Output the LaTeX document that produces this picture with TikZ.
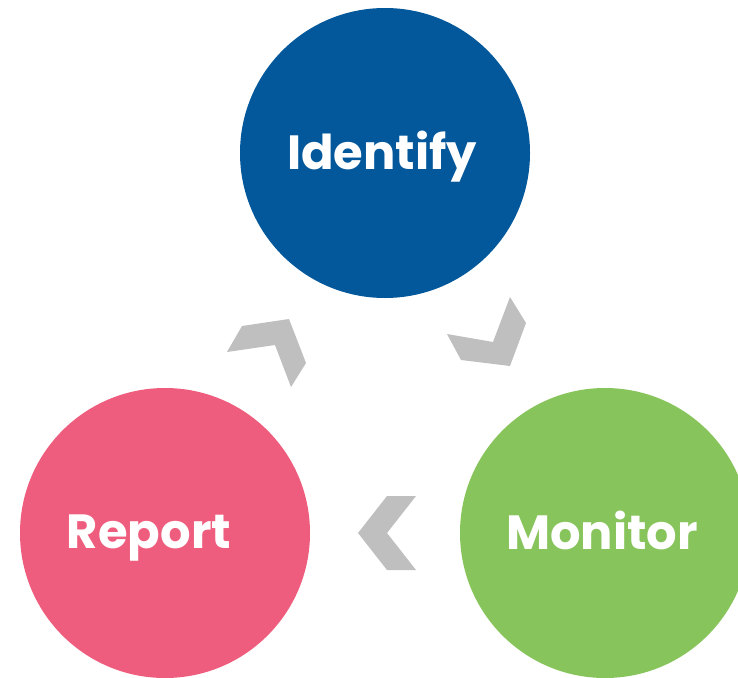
\documentclass[tikz,border=0pt]{standalone}
\usepackage{fontspec}
\setmainfont{Poppins}
\definecolor{idblue}{HTML}{02589B}
\definecolor{rppink}{HTML}{EF5D7E}
\definecolor{mngreen}{HTML}{87C45B}
\definecolor{chev}{HTML}{BFBFBF}
\begin{document}
\begin{tikzpicture}[x=1pt,y=-1pt,
  stage/.style={circle,minimum size=290pt,inner sep=0pt,draw=none},
  label/.style={text=white,font=\fontsize{48}{54}\selectfont\bfseries,inner sep=0pt,anchor=base},
  chevshape/.style={fill=chev,draw=none}]
\useasboundingbox (0,0) rectangle (738,677);
\begin{scope}
\clip (0,0) rectangle (738,677);
\node[stage,fill=idblue] (identify) at (385,153) {};
\node[stage,fill=rppink] (report) at (165,533) {};
\node[stage,fill=mngreen] (monitor) at (605,533) {};
\end{scope}
\node[label] (tid) at (382,169) {Identify};
\node[label] (trp) at (149,548) {Report};
\node[label] (tmn) at (602,549) {Monitor};
\fill[chevshape] (227,352) -- (242,326) -- (289,319) -- (306,363) -- (291,387) -- (275,345) -- cycle;
\fill[chevshape] (510,297) -- (526,323) -- (510,366) -- (461,360) -- (447,334) -- (493,342) -- cycle;
\fill[chevshape] (387,496) -- (416,496) -- (387,533) -- (416,570) -- (387,570) -- (358,533) -- cycle;
\end{tikzpicture}
\end{document}
